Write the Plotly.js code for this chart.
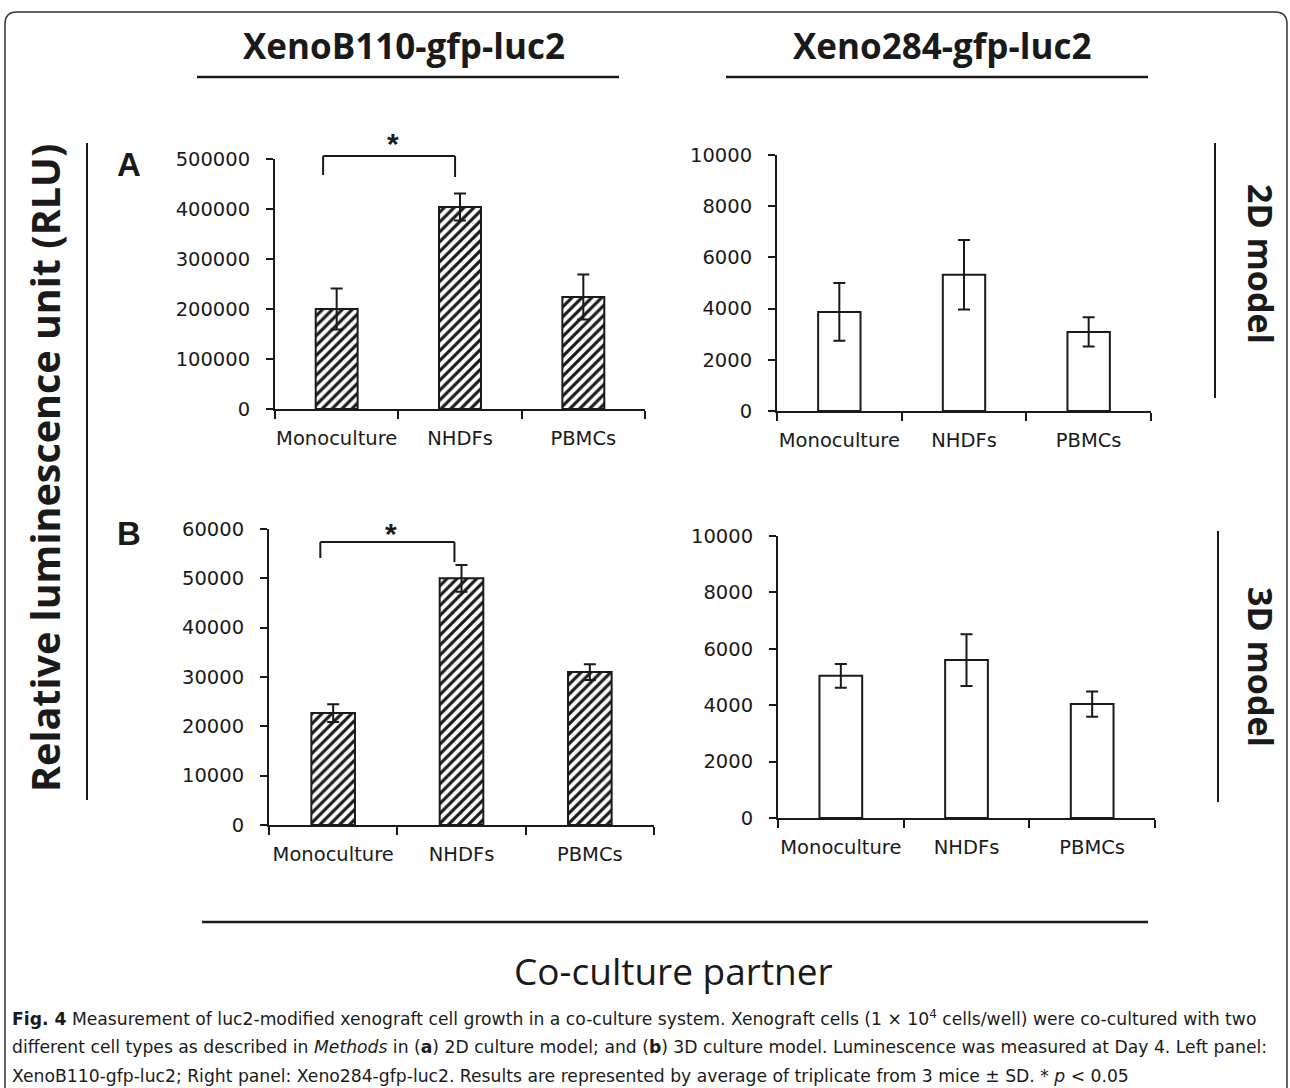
<!DOCTYPE html>
<html>
<head>
<meta charset="utf-8">
<script src="https://cdn.plot.ly/plotly-3.0.1.min.js"></script>
<style>
  html, body { margin: 0; padding: 0; background: #ffffff; }
  #chart { width: 1290px; height: 1088px; }
</style>
</head>
<body>
<div id="chart"></div>
<script>
// ---------------- data ----------------
const categories = ['Monoculture', 'NHDFs', 'PBMCs'];

// (A) 2D model
const xenoB110_2D = [200000, 404000, 224000];
const xenoB110_2D_sd = [41000, 27000, 45000];
const xeno284_2D = [3870, 5320, 3090];
const xeno284_2D_sd = [1130, 1360, 570];

// (B) 3D model
const xenoB110_3D = [22700, 50000, 31000];
const xenoB110_3D_sd = [1800, 2700, 1600];
const xeno284_3D = [5040, 5600, 4040];
const xeno284_3D_sd = [420, 920, 450];

// axis maxima / steps
const yMaxA1 = 500000, yStepA1 = 100000;
const yMaxA2 = 10000, yStepA2 = 2000;
const yMaxB1 = 60000, yStepB1 = 10000;
const yMaxB2 = 10000, yStepB2 = 2000;

const panelHeaders = ['XenoB110-gfp-luc2', 'Xeno284-gfp-luc2'];
const rowLabels = ['2D model', '3D model'];
const panelLetters = ['A', 'B'];
const yTitle = 'Relative luminescence unit (RLU)';
const xTitle = 'Co-culture partner';
const captionLines = [
  '<b>Fig. 4</b> Measurement of luc2-modified xenograft cell growth in a co-culture system. Xenograft cells (1 × 10<sup>4</sup> cells/well) were co-cultured with two',
  'different cell types as described in <i>Methods</i> in (<b>a</b>) 2D culture model; and (<b>b</b>) 3D culture model. Luminescence was measured at Day 4. Left panel:',
  'XenoB110-gfp-luc2; Right panel: Xeno284-gfp-luc2. Results are represented by average of triplicate from 3 mice ± SD. * <i>p</i> &lt; 0.05'
];

// ---------------- helpers ----------------
const W = 1290, H = 1088;
const px = x => x / W;
const py = y => 1 - y / H;
const INK = '#1a1a1a';
const tickFont = { family: 'DejaVu Sans, Verdana, sans-serif', size: 19.5, color: INK };

function xAxis(x0, x1, anchor) {
  return {
    domain: [px(x0), px(x1)], anchor: anchor, type: 'category', range: [-0.5, 2.5],
    showline: true, linecolor: INK, linewidth: 2,
    ticks: 'outside', tickson: 'boundaries', ticklen: 8, tickwidth: 2, tickcolor: INK,
    tickfont: tickFont, tickangle: 0, ticklabelstandoff: 11,
    showgrid: false, zeroline: false, fixedrange: true
  };
}
function yAxis(top, bottom, max, step, anchor) {
  return {
    domain: [py(bottom), py(top)], anchor: anchor, range: [0, max], tick0: 0, dtick: step,
    tickformat: 'd', showline: true, linecolor: INK, linewidth: 2,
    ticks: 'outside', ticklen: 7, tickwidth: 2, tickcolor: INK,
    tickfont: tickFont, ticklabelstandoff: 12,
    showgrid: false, zeroline: false, fixedrange: true
  };
}
function barTrace(vals, sd, xa, ya, hatched) {
  const marker = { color: 'white', line: { color: INK, width: 2 } };
  if (hatched) {
    marker.pattern = { shape: '/', fgcolor: INK, bgcolor: 'white', size: 7, solidity: 0.45, fillmode: 'replace' };
  }
  return {
    type: 'bar', x: categories, y: vals, xaxis: xa, yaxis: ya, width: 0.34,
    marker: marker,
    error_y: { type: 'data', array: sd, visible: true, color: INK, thickness: 2, width: 6 },
    hoverinfo: 'skip', showlegend: false
  };
}

const data = [
  barTrace(xenoB110_2D, xenoB110_2D_sd, 'x', 'y', true),
  barTrace(xeno284_2D, xeno284_2D_sd, 'x2', 'y2', false),
  barTrace(xenoB110_3D, xenoB110_3D_sd, 'x3', 'y3', true),
  barTrace(xeno284_3D, xeno284_3D_sd, 'x4', 'y4', false)
];

function hline(x0, x1, y, w) {
  return { type: 'line', xref: 'paper', yref: 'paper', x0: px(x0), x1: px(x1), y0: py(y), y1: py(y), line: { color: INK, width: w || 2 } };
}
function vline(x, y0, y1, w) {
  return { type: 'line', xref: 'paper', yref: 'paper', x0: px(x), x1: px(x), y0: py(y0), y1: py(y1), line: { color: INK, width: w || 2 } };
}
function bracket(xref, xl, xr, yTop, yLeftEnd, yRightEnd) {
  return [
    { type: 'line', xref: xref, yref: 'paper', x0: xl, x1: xr, y0: py(yTop), y1: py(yTop), line: { color: INK, width: 2 } },
    { type: 'line', xref: xref, yref: 'paper', x0: xl, x1: xl, y0: py(yTop), y1: py(yLeftEnd), line: { color: INK, width: 2 } },
    { type: 'line', xref: xref, yref: 'paper', x0: xr, x1: xr, y0: py(yTop), y1: py(yRightEnd), line: { color: INK, width: 2 } }
  ];
}

const framePath = 'M ' + px(5) + ',' + py(1120) +
  ' L ' + px(5) + ',' + py(24) +
  ' Q ' + px(5) + ',' + py(12) + ' ' + px(17) + ',' + py(12) +
  ' L ' + px(1275) + ',' + py(12) +
  ' Q ' + px(1287) + ',' + py(12) + ' ' + px(1287) + ',' + py(24) +
  ' L ' + px(1287) + ',' + py(1120);

const shapes = [
  { type: 'path', xref: 'paper', yref: 'paper', path: framePath, line: { color: '#333', width: 1.5 } },
  hline(197, 619, 77, 2.5),
  hline(726, 1148, 77, 2.5),
  vline(87, 143, 800),
  vline(1215, 143, 398),
  vline(1218, 531, 802),
  hline(202, 1148, 922, 2.5)
].concat(
  bracket('x', -0.11, 0.96, 156, 175, 177),
  bracket('x3', -0.10, 0.945, 542, 558, 562)
);

function txt(text, x, y, size, opts) {
  return Object.assign({
    text: text, xref: 'paper', yref: 'paper', x: px(x), y: py(y), showarrow: false,
    xanchor: 'center', yanchor: 'middle',
    font: { family: 'Open Sans, sans-serif', size: size, color: INK }
  }, opts || {});
}

const annotations = [
  txt('<b>' + panelHeaders[0] + '</b>', 404, 46, 35),
  txt('<b>' + panelHeaders[1] + '</b>', 942, 46, 35),
  txt('<b>' + yTitle + '</b>', 45, 468, 39.5, { textangle: -90 }),
  txt('<b>' + rowLabels[0] + '</b>', 1261, 264, 34, { textangle: 90 }),
  txt('<b>' + rowLabels[1] + '</b>', 1261, 667, 34, { textangle: 90 }),
  txt('<b>' + panelLetters[0] + '</b>', 129, 165, 33, { font: { family: 'Liberation Sans, Arial, sans-serif', size: 33, color: INK } }),
  txt('<b>' + panelLetters[1] + '</b>', 129, 533, 33, { font: { family: 'Liberation Sans, Arial, sans-serif', size: 33, color: INK } }),
  { text: '<b>*</b>', xref: 'x', yref: 'paper', x: 0.457, y: py(143), showarrow: false, xanchor: 'center', yanchor: 'middle',
    font: { family: 'Liberation Sans, Arial, sans-serif', size: 30, color: INK } },
  { text: '<b>*</b>', xref: 'x3', yref: 'paper', x: 0.45, y: py(533), showarrow: false, xanchor: 'center', yanchor: 'middle',
    font: { family: 'Liberation Sans, Arial, sans-serif', size: 30, color: INK } },
  txt(xTitle, 674, 970, 37)
].concat(captionLines.map((t, i) => txt(t, 10, [1018, 1047, 1076][i], 17.2, {
  xanchor: 'left', align: 'left',
  font: { family: 'DejaVu Sans, sans-serif', size: 17.2, color: INK }
})));

const layout = {
  width: W, height: H,
  margin: { l: 0, r: 0, t: 0, b: 0, pad: 0 },
  paper_bgcolor: 'white', plot_bgcolor: 'rgba(0,0,0,0)',
  showlegend: false, bargap: 0.66,
  xaxis: xAxis(275, 645, 'y'),
  yaxis: yAxis(159, 409, yMaxA1, yStepA1, 'x'),
  xaxis2: xAxis(777, 1151, 'y2'),
  yaxis2: yAxis(155, 411, yMaxA2, yStepA2, 'x2'),
  xaxis3: xAxis(269, 654, 'y3'),
  yaxis3: yAxis(529, 825, yMaxB1, yStepB1, 'x3'),
  xaxis4: xAxis(778, 1155, 'y4'),
  yaxis4: yAxis(536, 818, yMaxB2, yStepB2, 'x4'),
  shapes: shapes,
  annotations: annotations
};

Plotly.newPlot('chart', data, layout, { displayModeBar: false, staticPlot: true });
</script>
</body>
</html>
